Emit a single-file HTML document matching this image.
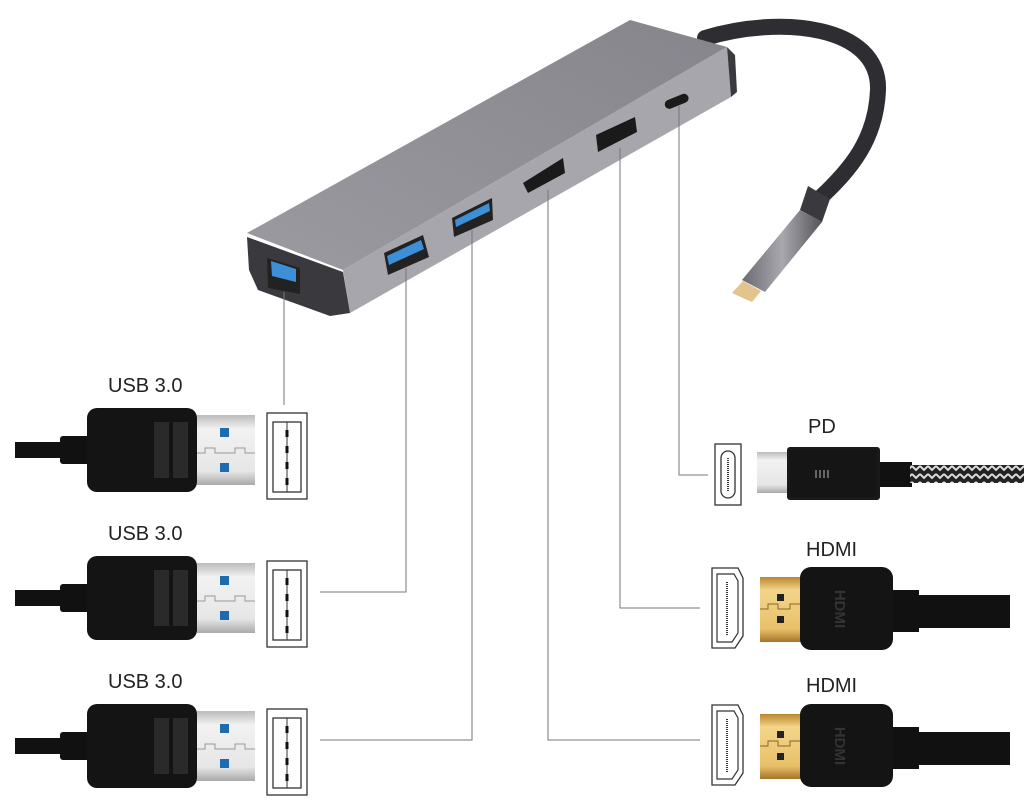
<!DOCTYPE html>
<html><head><meta charset="utf-8"><style>html,body{margin:0;padding:0;background:#fff;width:1024px;height:800px;overflow:hidden}svg text{font-family:"Liberation Sans",sans-serif;fill:#222}</style></head>
<body>
<svg width="1024" height="800" viewBox="0 0 1024 800" xmlns="http://www.w3.org/2000/svg">
<defs>
<linearGradient id="sil" x1="0" y1="0" x2="0" y2="1"><stop offset="0" stop-color="#bbb"/><stop offset=".2" stop-color="#f2f2f2"/><stop offset=".8" stop-color="#e6e6e6"/><stop offset="1" stop-color="#aaa"/></linearGradient>
<linearGradient id="gold" x1="0" y1="0" x2="0" y2="1"><stop offset="0" stop-color="#b8862e"/><stop offset=".2" stop-color="#f3d58a"/><stop offset=".8" stop-color="#e8c06a"/><stop offset="1" stop-color="#a6752a"/></linearGradient>
<linearGradient id="topf" x1="0" y1="1" x2="1" y2="0"><stop offset="0" stop-color="#9a9aa0"/><stop offset="1" stop-color="#85858b"/></linearGradient>
<linearGradient id="csil" x1="0" y1="0" x2="1" y2="0"><stop offset="0" stop-color="#6a6a70"/><stop offset=".5" stop-color="#a8a8ae"/><stop offset="1" stop-color="#55555a"/></linearGradient>
<pattern id="braid" width="8" height="16" patternUnits="userSpaceOnUse"><rect width="8" height="16" fill="#222"/><path d="M0 2 L4 6 L8 2 M0 10 L4 14 L8 10" stroke="#ddd" stroke-width="2" fill="none"/></pattern>
<g id="usb">
 <rect x="15" y="-8" width="80" height="16" fill="#111"/>
 <rect x="60" y="-14" width="35" height="28" rx="3" fill="#111"/>
 <rect x="87" y="-42" width="110" height="84" rx="10" fill="#141414"/>
 <rect x="154" y="-28" width="15" height="56" fill="#2a2a2a"/><rect x="173" y="-28" width="15" height="56" fill="#2a2a2a"/>
 <rect x="197" y="-35" width="58" height="70" fill="url(#sil)"/>
 <path d="M197 3 H205 V-2 H215 V3 H235 V-2 H245 V3 H255" stroke="#999" fill="none"/>
 <rect x="220" y="-22" width="9" height="9" fill="#1e6cb0"/><rect x="220" y="13" width="9" height="9" fill="#1e6cb0"/>
 <rect x="267" y="-37" width="40" height="86" fill="#fff" stroke="#333" stroke-width="1.3"/>
 <rect x="273" y="-28" width="28" height="70" fill="none" stroke="#333" stroke-width="1.3"/>
 <line x1="287" y1="-28" x2="287" y2="42" stroke="#333"/>
 <path d="M287 -20 v7 M287 -4 v7 M287 12 v7 M287 28 v7" stroke="#111" stroke-width="3"/>
</g>
<g id="hdmi">
 <path d="M712 0 H738 L743 10 V68 L735 80 H712 Z" fill="#fff" stroke="#333" stroke-width="1.3"/>
 <path d="M717 6 H734 L738 13 V65 L732 74 H717 Z" fill="none" stroke="#333" stroke-width="1.2"/>
 <line x1="727" y1="14" x2="727" y2="68" stroke="#333" stroke-width="2" stroke-dasharray="1 1"/>
 <rect x="760" y="9" width="42" height="65" fill="url(#gold)"/>
 <path d="M760 41 H768 V36 H778 V41 H790 V36 H802" stroke="#8a6420" fill="none"/>
 <rect x="777" y="26" width="7" height="7" fill="#222"/><rect x="777" y="48" width="7" height="7" fill="#222"/>
 <rect x="800" y="-1" width="93" height="83" rx="11" fill="#141414"/>
 <rect x="893" y="22" width="26" height="42" fill="#111"/>
 <rect x="893" y="27" width="117" height="33" fill="#111"/>
 <text x="835" y="41" transform="rotate(90 835 41)" text-anchor="middle" font-size="15" style="fill:#333;font-weight:bold">HDMI</text>
</g>
</defs>

<!-- cable from hub -->
<path d="M705 38 C780 15 880 25 878 90 C876 140 850 170 820 198" stroke="#2e2e32" stroke-width="16" fill="none" stroke-linecap="round"/>
<polygon points="808,186 830,199 822,222 800,210" fill="#3a3a3e"/>
<polygon points="800,210 822,222 765,292 742,280" fill="url(#csil)"/>
<polygon points="743,281 761,291 752,302 732,293" fill="#e2c48c"/>

<!-- hub -->
<polygon points="247,233 630,20 727,47 343,270" fill="url(#topf)"/>
<polygon points="343,270 727,47 731,97 350,313" fill="#a6a6ac"/>
<polygon points="247,237 343,272 350,313 330,316 258,290 249,270" fill="#3a3a3e"/>
<polygon points="727,47 735,55 737,92 731,97" fill="#3a3a3e"/>
<!-- ports -->
<path d="M267 258 L300 268 V294 L268 288 Z" fill="#222"/><path d="M271 261 L296 269 V282 L272 276 Z" fill="#3d8fd8"/>
<path d="M384 253 L423 235 L429 257 L388 275 Z" fill="#222"/><path d="M387 256 L421 240 L424 249 L389 265 Z" fill="#3d8fd8"/>
<path d="M452 218 L492 198 L493 220 L454 237 Z" fill="#222"/><path d="M455 220 L489 203 L490 211 L456 227 Z" fill="#3d8fd8"/>
<path d="M523 183 L563 158 L565 173 L528 193 Z" fill="#1a1a1a"/>
<path d="M596 135 L635 117 L637 132 L598 152 Z" fill="#1a1a1a"/>
<rect x="664" y="97" width="25" height="9" rx="4.5" fill="#1a1a1a" transform="rotate(-22 676 101)"/>

<!-- leader lines -->
<g stroke="#777" stroke-width="1" fill="none">
<path d="M284 292 V405"/>
<path d="M406 268 V592 H320"/>
<path d="M472 230 V740 H320"/>
<path d="M548 190 V740 H700"/>
<path d="M620 148 V608 H700"/>
<path d="M679 106 V475 H708"/>
</g>

<!-- left usb -->
<use href="#usb" transform="translate(0,450)"/>
<use href="#usb" transform="translate(0,598)"/>
<use href="#usb" transform="translate(0,746)"/>
<text x="108" y="392" font-size="20">USB 3.0</text>
<text x="108" y="540" font-size="20">USB 3.0</text>
<text x="108" y="688" font-size="20">USB 3.0</text>

<!-- PD -->
<text x="808" y="433" font-size="20">PD</text>
<rect x="715" y="444" width="26" height="61" fill="#fff" stroke="#333" stroke-width="1.3"/>
<rect x="721" y="451" width="14" height="47" rx="7" fill="none" stroke="#333" stroke-width="1.3"/>
<line x1="728" y1="458" x2="728" y2="492" stroke="#333" stroke-width="2" stroke-dasharray="1 1"/>
<rect x="757" y="452" width="33" height="41" fill="url(#sil)"/>
<rect x="787" y="447" width="93" height="53" rx="3" fill="#1a1a1a"/>
<rect x="790" y="450" width="87" height="47" fill="#151515"/>
<path d="M816 470 v8 M820 470 v8 M824 470 v8 M828 470 v8" stroke="#666" stroke-width="2"/>
<rect x="880" y="462" width="32" height="25" fill="#111"/>
<rect x="910" y="465" width="114" height="18" fill="url(#braid)"/>

<!-- HDMI -->
<text x="806" y="556" font-size="20">HDMI</text>
<use href="#hdmi" transform="translate(0,568)"/>
<text x="806" y="692" font-size="20">HDMI</text>
<use href="#hdmi" transform="translate(0,705)"/>
</svg>
</body></html>
